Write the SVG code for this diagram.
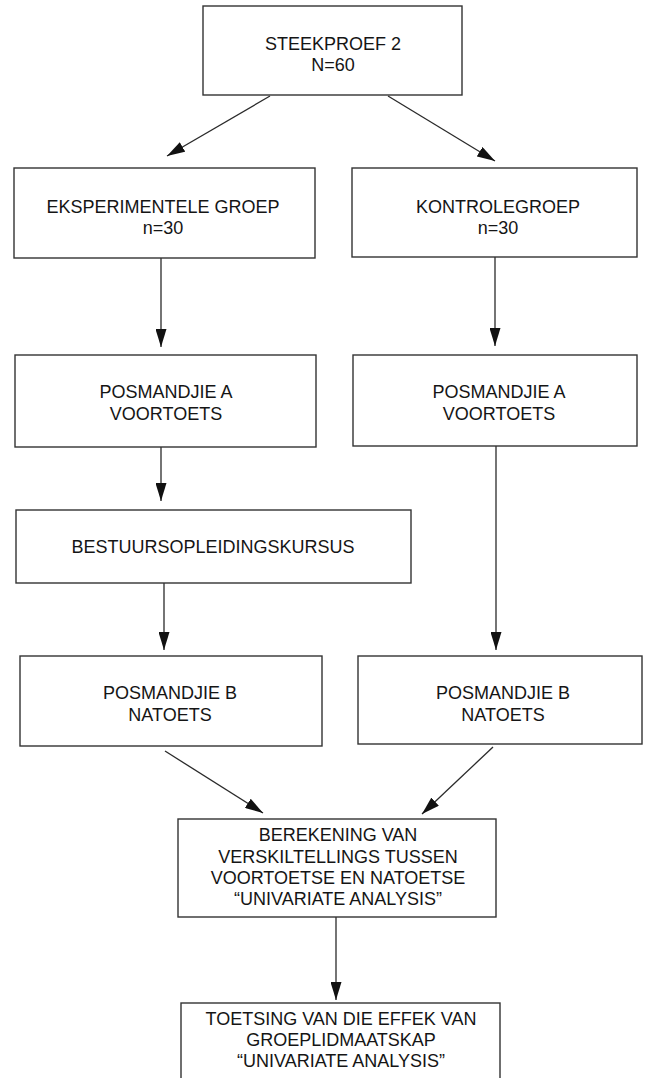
<svg xmlns="http://www.w3.org/2000/svg" width="647" height="1078" viewBox="0 0 647 1078">
<defs>
<marker id="ah" viewBox="0 0 18 11" refX="18" refY="5.5" markerWidth="18" markerHeight="11" orient="auto" markerUnits="userSpaceOnUse">
<path d="M0,0 L18,5.5 L0,11 Z" fill="#111"/>
</marker>
<style>
.box{fill:#fff;stroke:#333;stroke-width:1.4}
.t{font-family:"Liberation Sans",Arial,Helvetica,sans-serif;font-size:18px;fill:#151515;text-anchor:middle}
.c{fill:none;stroke:#2a2a2a;stroke-width:1.3;marker-end:url(#ah)}
</style>
</defs>
<rect width="647" height="1078" fill="#fff"/>
<g id="connectors">
<line class="c" x1="270" y1="96" x2="167" y2="156"/>
<line class="c" x1="388" y1="96" x2="495" y2="161"/>
<line class="c" x1="161" y1="258" x2="161" y2="347"/>
<line class="c" x1="495" y1="257" x2="495" y2="346"/>
<line class="c" x1="161" y1="447" x2="161" y2="501"/>
<line class="c" x1="164" y1="583" x2="164" y2="650"/>
<line class="c" x1="496" y1="446" x2="496" y2="650"/>
<line class="c" x1="165" y1="751" x2="263" y2="813"/>
<line class="c" x1="493" y1="747" x2="422" y2="814"/>
<line class="c" x1="336" y1="917" x2="336" y2="1000"/>
</g>
<g id="steekproef">
<rect class="box" x="203" y="6" width="259" height="89"/>
<text class="t" x="333" y="50">STEEKPROEF 2</text>
<text class="t" x="333" y="71">N=60</text>
</g>
<g id="eksperimenteel">
<rect class="box" x="14" y="168" width="301" height="90"/>
<text class="t" x="163" y="213">EKSPERIMENTELE GROEP</text>
<text class="t" x="163" y="234">n=30</text>
</g>
<g id="kontrole">
<rect class="box" x="352" y="168" width="285" height="89"/>
<text class="t" x="498" y="213">KONTROLEGROEP</text>
<text class="t" x="498" y="234">n=30</text>
</g>
<g id="posA-links">
<rect class="box" x="15" y="355" width="301" height="92"/>
<text class="t" x="166" y="398">POSMANDJIE A</text>
<text class="t" x="166" y="420">VOORTOETS</text>
</g>
<g id="posA-regs">
<rect class="box" x="353" y="355" width="284" height="91"/>
<text class="t" x="499" y="398">POSMANDJIE A</text>
<text class="t" x="499" y="420">VOORTOETS</text>
</g>
<g id="kursus">
<rect class="box" x="16" y="510" width="395" height="73"/>
<text class="t" x="213" y="553">BESTUURSOPLEIDINGSKURSUS</text>
</g>
<g id="posB-links">
<rect class="box" x="20" y="656" width="302" height="90"/>
<text class="t" x="170" y="699">POSMANDJIE B</text>
<text class="t" x="170" y="721">NATOETS</text>
</g>
<g id="posB-regs">
<rect class="box" x="358" y="656" width="284" height="88"/>
<text class="t" x="503" y="699">POSMANDJIE B</text>
<text class="t" x="503" y="721">NATOETS</text>
</g>
<g id="berekening">
<rect class="box" x="178" y="819" width="318" height="98"/>
<text class="t" x="338" y="841">BEREKENING VAN</text>
<text class="t" x="338" y="863">VERSKILTELLINGS TUSSEN</text>
<text class="t" x="338" y="884">VOORTOETSE EN NATOETSE</text>
<text class="t" x="338" y="905">“UNIVARIATE ANALYSIS”</text>
</g>
<g id="toetsing">
<rect class="box" x="181" y="1003" width="319" height="90"/>
<text class="t" x="341" y="1025">TOETSING VAN DIE EFFEK VAN</text>
<text class="t" x="341" y="1046">GROEPLIDMAATSKAP</text>
<text class="t" x="341" y="1067">“UNIVARIATE ANALYSIS”</text>
</g>
</svg>
